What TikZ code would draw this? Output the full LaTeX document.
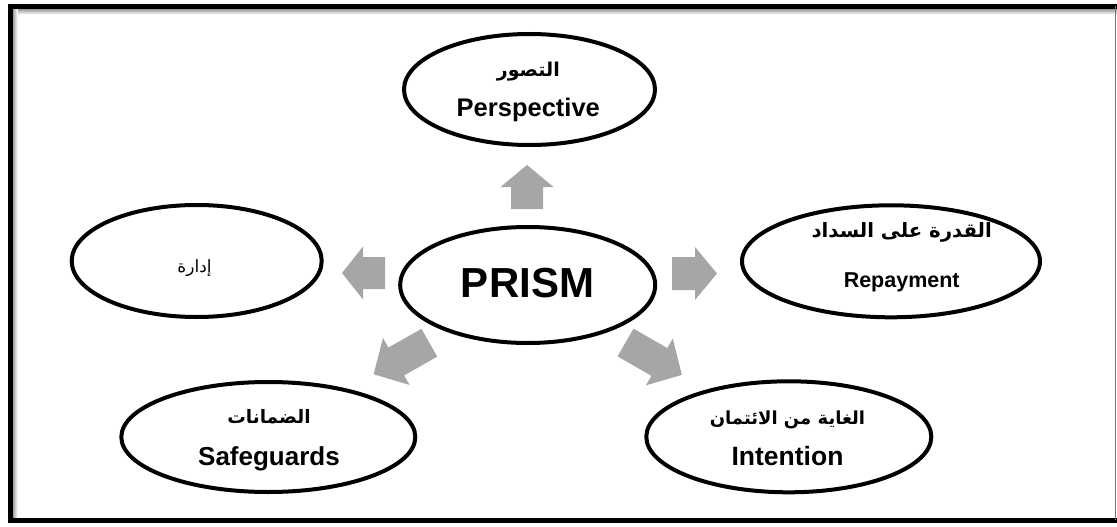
\documentclass[tikz,border=0pt]{standalone}
\usepackage{fontspec}
\setmainfont{Liberation Sans}
\newfontfamily\arabicfont[Script=Arabic]{DejaVu Sans}
\TeXXeTstate=1
\usetikzlibrary{shapes.geometric}
\definecolor{arrowgray}{RGB}{166,166,166}
\tikzset{
  ell/.style={draw=black, line width=4pt, shape=ellipse, inner sep=0pt},
  entext/.style={anchor=base, inner sep=0pt, font=\bfseries\fontsize{#1}{#1}\selectfont},
  artext/.style={anchor=base, inner sep=0pt, font=\arabicfont\bfseries\fontsize{#1}{#1}\selectfont},
  pics/blkarrow/.style n args={4}{code={
    \fill[arrowgray] (-#1/2,-#3/2) -- (#1/2-#2,-#3/2) -- (#1/2-#2,-#4/2) -- (#1/2,0)
      -- (#1/2-#2,#4/2) -- (#1/2-#2,#3/2) -- (-#1/2,#3/2) -- cycle;
  }}
}
\begin{document}
\begin{tikzpicture}[x=1pt,y=-1pt]
\useasboundingbox (0,0) rectangle (1117,527);
% frame with soft shadow
\shade[top color=black!40, bottom color=white] (12.5,9) rectangle (1117,14.5);
\shade[left color=black!40, right color=white] (12.5,9) rectangle (17.5,518);
\draw[line width=5pt] (1117,6.5) -- (10,6.5) -- (10,523);
\draw[line width=5pt] (8,520.5) -- (1117,520.5);
\draw[black!55, line width=1pt] (1115.5,6) -- (1115.5,520);

% ellipses
\node[ell, minimum width=251pt, minimum height=111pt] (persp) at (529.5,89.5) {};
\node[ell, minimum width=250pt, minimum height=112pt] (idara) at (196.7,261) {};
\node[ell, minimum width=298pt, minimum height=112pt] (repay) at (891,261.3) {};
\node[ell, minimum width=255pt, minimum height=116pt] (prism) at (527.7,285) {};
\node[ell, minimum width=294pt, minimum height=110pt] (safe) at (268.3,437) {};
\node[ell, minimum width=285pt, minimum height=111pt] (intent) at (788.8,436.8) {};

% texts
\node[artext=19] (perspAr) at (528.3,77) {\beginR التصور\endR};
\node[entext=25.5] (perspEn) at (528.3,116) {Perspective};
\node[artext=19.7] (repayAr) at (901.7,237) {\beginR القدرة على السداد\endR};
\node[entext=21.5] (repayEn) at (901.7,287) {Repayment};
\node[anchor=base, inner sep=0pt, font=\arabicfont\fontsize{17}{17}\selectfont] (idaraAr) at (194.5,272) {\beginR إدارة\endR};
\node[entext=42] (prismEn) at (527.5,297) {PRISM};
\node[artext=18.5] (safeAr) at (269,423) {\beginR الضمانات\endR};
\node[entext=26] (safeEn) at (269,465) {Safeguards};
\node[artext=18] (intentAr) at (787.5,424) {\beginR الغاية من الائتمان\endR};
\node[entext=26.5] (intentEn) at (787.5,465) {Intention};

% block arrows
\pic[rotate=90] at (527,187) {blkarrow={44}{22}{32}{53}};
\pic at (694.5,273.5) {blkarrow={45}{22}{33}{53}};
\pic[rotate=180] at (363.5,273) {blkarrow={43}{21}{32}{53}};
\pic[rotate=209.5] at (401.5,358.5) {blkarrow={64}{26}{32}{54}};
\pic[rotate=-29.9] at (653.7,358.7) {blkarrow={65}{26}{32}{54}};
\end{tikzpicture}
\end{document}
